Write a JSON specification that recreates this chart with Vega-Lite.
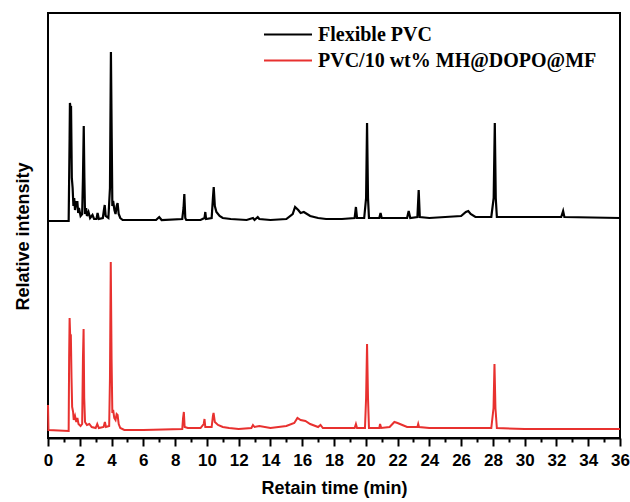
{
  "$schema": "https://vega.github.io/schema/vega-lite/v6.json",
  "autosize": {"type": "none"},
  "width": 572,
  "height": 425,
  "padding": {"left": 48, "top": 13, "right": 10, "bottom": 64},
  "background": "white",
  "config": {
    "view": {"stroke": "black", "strokeWidth": 2},
    "font": "Liberation Sans"
  },
  "datasets": {
    "flex": [
      {"t":0,"v":217},{"t":1.30,"v":217},{"t":1.36,"v":300},{"t":1.38,"v":335},{"t":1.42,"v":330},{"t":1.45,"v":332},{"t":1.50,"v":260},{"t":1.55,"v":250},{"t":1.60,"v":232},{"t":1.65,"v":240},{"t":1.70,"v":228},{"t":1.78,"v":236},{"t":1.85,"v":236},{"t":1.90,"v":225},{"t":1.95,"v":230},{"t":2.05,"v":222},{"t":2.15,"v":224},{"t":2.20,"v":260},{"t":2.25,"v":312},{"t":2.29,"v":260},{"t":2.33,"v":224},{"t":2.40,"v":230},{"t":2.45,"v":222},{"t":2.55,"v":226},{"t":2.65,"v":220},{"t":2.80,"v":223},{"t":2.90,"v":219},{"t":3.05,"v":219},{"t":3.12,"v":225},{"t":3.20,"v":219},{"t":3.45,"v":220},{"t":3.52,"v":228},{"t":3.57,"v":233},{"t":3.63,"v":222},{"t":3.80,"v":220},{"t":3.90,"v":250},{"t":3.96,"v":386},{"t":4.01,"v":300},{"t":4.05,"v":232},{"t":4.10,"v":237},{"t":4.18,"v":228},{"t":4.25,"v":224},{"t":4.32,"v":232},{"t":4.38,"v":235},{"t":4.45,"v":224},{"t":4.55,"v":220},{"t":4.70,"v":218},{"t":6.0,"v":218},{"t":6.8,"v":218},{"t":7.0,"v":221},{"t":7.15,"v":218},{"t":8.45,"v":219},{"t":8.53,"v":230},{"t":8.58,"v":244},{"t":8.64,"v":220},{"t":8.70,"v":218},{"t":9.6,"v":218},{"t":9.85,"v":220},{"t":9.90,"v":226},{"t":9.95,"v":219},{"t":10.30,"v":220},{"t":10.38,"v":240},{"t":10.43,"v":251},{"t":10.50,"v":232},{"t":10.60,"v":226},{"t":10.80,"v":222},{"t":11.00,"v":220},{"t":11.5,"v":219},{"t":12.5,"v":218},{"t":12.9,"v":220},{"t":13.0,"v":218},{"t":13.2,"v":221},{"t":13.3,"v":219},{"t":14.0,"v":218},{"t":15.0,"v":219},{"t":15.4,"v":224},{"t":15.55,"v":231},{"t":15.75,"v":228},{"t":15.9,"v":225},{"t":16.1,"v":226},{"t":16.5,"v":222},{"t":17.0,"v":220},{"t":17.5,"v":219},{"t":18.5,"v":219},{"t":19.3,"v":220},{"t":19.38,"v":231},{"t":19.45,"v":220},{"t":19.9,"v":220},{"t":20.02,"v":240},{"t":20.08,"v":315},{"t":20.14,"v":240},{"t":20.2,"v":220},{"t":20.85,"v":220},{"t":20.93,"v":225},{"t":21.0,"v":220},{"t":22.6,"v":220},{"t":22.7,"v":227},{"t":22.8,"v":220},{"t":23.25,"v":221},{"t":23.33,"v":248},{"t":23.4,"v":221},{"t":24.0,"v":220},{"t":25.0,"v":221},{"t":26.0,"v":222},{"t":26.3,"v":226},{"t":26.45,"v":227},{"t":26.6,"v":224},{"t":26.9,"v":221},{"t":27.9,"v":221},{"t":28.05,"v":240},{"t":28.12,"v":315},{"t":28.18,"v":240},{"t":28.25,"v":221},{"t":32.3,"v":221},{"t":32.42,"v":227},{"t":32.5,"v":221},{"t":36,"v":220}
    ],
    "mh": [
      {"t":0,"v":33},{"t":0.03,"v":8},{"t":1.30,"v":7},{"t":1.33,"v":80},{"t":1.36,"v":120},{"t":1.40,"v":100},{"t":1.44,"v":101},{"t":1.48,"v":60},{"t":1.52,"v":31},{"t":1.58,"v":26},{"t":1.62,"v":18},{"t":1.70,"v":22},{"t":1.78,"v":16},{"t":1.85,"v":20},{"t":1.92,"v":14},{"t":2.05,"v":12},{"t":2.15,"v":14},{"t":2.20,"v":80},{"t":2.24,"v":109},{"t":2.28,"v":40},{"t":2.33,"v":16},{"t":2.45,"v":13},{"t":2.60,"v":14},{"t":2.75,"v":11},{"t":3.0,"v":10},{"t":3.1,"v":14},{"t":3.2,"v":10},{"t":3.5,"v":11},{"t":3.58,"v":16},{"t":3.65,"v":11},{"t":3.85,"v":12},{"t":3.90,"v":60},{"t":3.95,"v":176},{"t":4.00,"v":80},{"t":4.05,"v":25},{"t":4.10,"v":28},{"t":4.17,"v":20},{"t":4.25,"v":18},{"t":4.32,"v":24},{"t":4.38,"v":23},{"t":4.45,"v":14},{"t":4.55,"v":10},{"t":4.8,"v":8},{"t":6.0,"v":8},{"t":8.45,"v":9},{"t":8.50,"v":20},{"t":8.55,"v":26},{"t":8.60,"v":11},{"t":8.8,"v":10},{"t":9.2,"v":10},{"t":9.6,"v":10},{"t":9.8,"v":14},{"t":9.85,"v":19},{"t":9.9,"v":11},{"t":10.3,"v":11},{"t":10.38,"v":22},{"t":10.42,"v":25},{"t":10.5,"v":16},{"t":10.7,"v":13},{"t":11.0,"v":11},{"t":11.4,"v":10},{"t":12.0,"v":9},{"t":12.8,"v":10},{"t":12.9,"v":13},{"t":13.0,"v":11},{"t":13.3,"v":12},{"t":14.0,"v":10},{"t":15.0,"v":12},{"t":15.5,"v":15},{"t":15.7,"v":20},{"t":15.9,"v":18},{"t":16.2,"v":17},{"t":16.5,"v":14},{"t":17.0,"v":11},{"t":17.15,"v":13},{"t":17.3,"v":10},{"t":18.5,"v":10},{"t":19.3,"v":10},{"t":19.38,"v":14},{"t":19.45,"v":10},{"t":19.95,"v":10},{"t":20.02,"v":40},{"t":20.08,"v":94},{"t":20.14,"v":40},{"t":20.2,"v":10},{"t":20.85,"v":10},{"t":20.9,"v":14},{"t":20.97,"v":10},{"t":21.5,"v":11},{"t":21.8,"v":16},{"t":22.0,"v":15},{"t":22.3,"v":13},{"t":22.6,"v":11},{"t":23.25,"v":11},{"t":23.3,"v":14},{"t":23.35,"v":11},{"t":24.0,"v":10},{"t":25.0,"v":10},{"t":26.0,"v":10},{"t":27.9,"v":10},{"t":28.04,"v":30},{"t":28.1,"v":74},{"t":28.16,"v":30},{"t":28.25,"v":10},{"t":30.0,"v":9},{"t":33.0,"v":9},{"t":36,"v":9}
    ]
  },
  "resolve": {"axis": {"x": "independent"}},
  "layer": [
    {
      "data": {"name": "flex"},
      "transform": [{"calculate": "'Flexible PVC'", "as": "series"}],
      "mark": {"type": "line", "strokeWidth": 2.2, "interpolate": "linear"},
      "encoding": {
        "x": {
          "field": "t", "type": "quantitative",
          "scale": {"domain": [0, 36], "nice": false, "zero": false},
          "axis": {
            "orient": "bottom",
            "title": "Retain time (min)",
            "values": [0,2,4,6,8,10,12,14,16,18,20,22,24,26,28,30,32,34,36],
            "labelOverlap": false,
            "labelBound": false,
            "labelFlush": false,
            "labelFont": "Liberation Sans",
            "labelFontSize": 17,
            "labelFontWeight": "bold",
            "labelColor": "black",
            "labelPadding": 6,
            "tickSize": 8,
            "tickWidth": 2,
            "tickColor": "black",
            "domainColor": "black",
            "domainWidth": 2,
            "grid": false,
            "titleFont": "Liberation Sans",
            "titleFontSize": 18,
            "titleFontWeight": "bold",
            "titleColor": "black",
            "titlePadding": 11
          }
        },
        "y": {"field": "v", "type": "quantitative"},
        "color": {"field": "series", "type": "nominal"}
      }
    },
    {
      "data": {"name": "mh"},
      "transform": [{"calculate": "'PVC/10 wt% MH@DOPO@MF'", "as": "series"}],
      "mark": {"type": "line", "strokeWidth": 2, "interpolate": "linear"},
      "encoding": {
        "x": {
          "field": "t", "type": "quantitative",
          "axis": {
            "orient": "bottom",
            "title": null,
            "values": [1,3,5,7,9,11,13,15,17,19,21,23,25,27,29,31,33,35],
            "labels": false,
            "domain": false,
            "tickSize": 4,
            "tickWidth": 2,
            "tickColor": "black",
            "grid": false
          }
        },
        "y": {
          "field": "v", "type": "quantitative",
          "scale": {"domain": [0, 425], "nice": false},
          "axis": {
            "title": "Relative intensity",
            "labels": false,
            "ticks": false,
            "domain": false,
            "grid": false,
            "titleFont": "Liberation Sans",
            "titleFontSize": 18,
            "titleFontWeight": "bold",
            "titleColor": "black",
            "titlePadding": 16,
            "titleY": 223
          }
        },
        "color": {
          "field": "series", "type": "nominal",
          "scale": {"domain": ["Flexible PVC", "PVC/10 wt% MH@DOPO@MF"], "range": ["#000000", "#e8312f"]},
          "legend": {
            "title": null,
            "orient": "none",
            "legendX": 215,
            "legendY": 9,
            "symbolType": "stroke",
            "symbolSize": 2304,
            "symbolStrokeWidth": 2,
            "clipHeight": 25,
            "rowPadding": 1,
            "labelFont": "Liberation Serif",
            "labelFontSize": 20,
            "labelFontWeight": "bold",
            "labelColor": "black",
            "labelOffset": 5,
            "labelLimit": 400
          }
        }
      }
    }
  ]
}
